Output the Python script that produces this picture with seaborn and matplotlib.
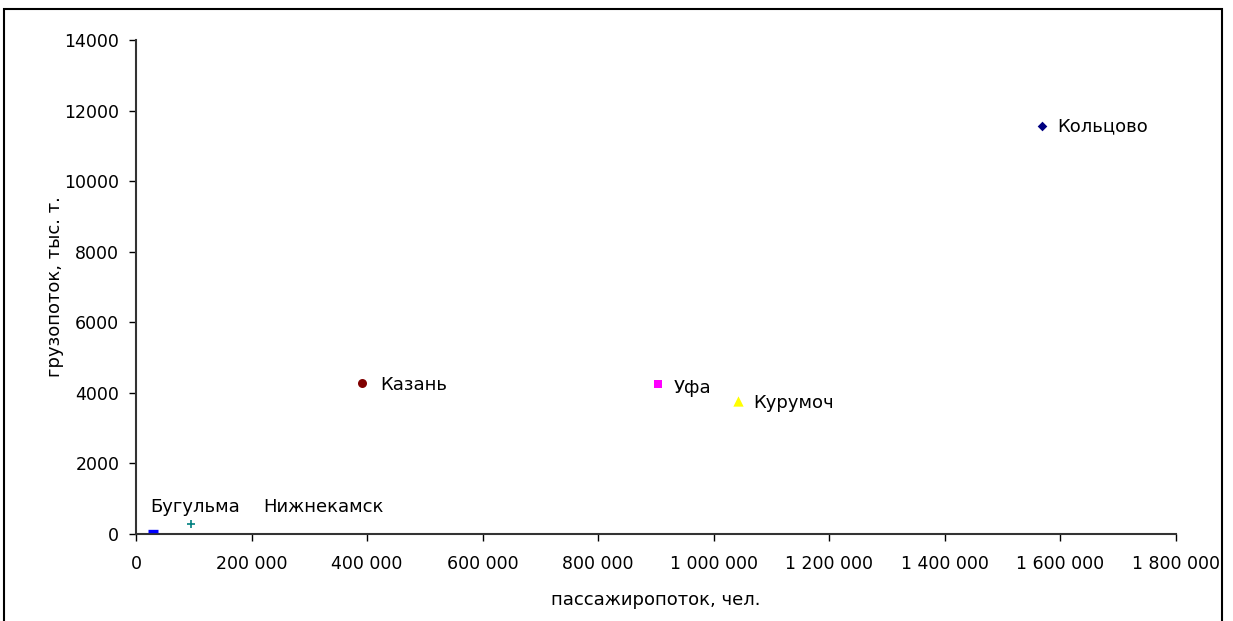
import matplotlib
matplotlib.use('Agg')
import matplotlib.pyplot as plt
import matplotlib.ticker as mticker
from matplotlib.patches import Rectangle
import seaborn as sns

sns.set_style('white')
plt.rcParams['font.family'] = ['DejaVu Sans']
plt.rcParams['text.color'] = 'black'
plt.rcParams['axes.labelcolor'] = 'black'
plt.rcParams['xtick.color'] = 'black'
plt.rcParams['ytick.color'] = 'black'

## data
airports = ['Кольцово', 'Казань', 'Уфа', 'Курумоч', 'Бугульма', 'Нижнекамск']
passengers = [1568000, 391000, 903000, 1042000, 29000, 95000]
cargo = [11560, 4280, 4250, 3770, 85, 280]

markers = ['D', 'o', 's', '^', '_', '+']
colors = ['#000080', '#800000', '#FF00FF', '#FFFF00', '#0000FF', '#008080']
sizes = [24, 42, 34, 55, 45, 28]

fig = plt.figure(figsize=(12.33, 6.21), dpi=100)
ax = fig.add_axes([0.1103, 0.140, 0.8435, 0.7955])

for i in range(len(airports)):
    if markers[i] == '_':
        lw = 2.4
    elif markers[i] == '+':
        lw = 1.2
    else:
        lw = 0
    sns.scatterplot(x=[passengers[i]], y=[cargo[i]], marker=markers[i],
                    color=colors[i], s=sizes[i], linewidth=lw,
                    ax=ax, legend=False, zorder=3)

## point labels, offsets in pixels
offsets = {'Кольцово': (15, 0), 'Казань': (18, -2), 'Уфа': (16, -4), 'Курумоч': (15, -2),
           'Бугульма': (-3, 24), 'Нижнекамск': (72, 17)}
for name, x, y in zip(airports, passengers, cargo):
    dx, dy = offsets[name]
    ax.annotate(name, (x, y), xytext=(dx, dy), textcoords='offset pixels',
                fontsize=13, va='center', ha='left', color='black')

ax.set_xlim(0, 1800000)
ax.set_ylim(0, 14000)
ax.xaxis.set_major_locator(mticker.MultipleLocator(200000))
ax.yaxis.set_major_locator(mticker.MultipleLocator(2000))
ax.xaxis.set_major_formatter(mticker.FuncFormatter(lambda v, p: f'{int(v):,}'.replace(',', ' ')))
ax.yaxis.set_major_formatter(mticker.FuncFormatter(lambda v, p: f'{int(v)}'))

ax.tick_params(axis='both', which='both', direction='out', length=5, width=1,
               labelsize=12.5, bottom=True, left=True, color='black', labelcolor='black')
ax.tick_params(axis='x', pad=10)
ax.tick_params(axis='y', pad=7)

sns.despine(ax=ax)
for sp in ['left', 'bottom']:
    ax.spines[sp].set_color('#333333')
    ax.spines[sp].set_linewidth(1.5)

ax.set_xlabel('пассажиропоток, чел.', fontsize=13)
ax.set_ylabel('грузопоток, тыс. т.', fontsize=13)
ax.xaxis.set_label_coords(0.5, -(600 - 534) / 494)
ax.xaxis.label.set_va('center')
ax.yaxis.set_label_coords((55 - 136) / 1040, 0.5)
ax.yaxis.label.set_va('center')

## outer frame
fig.patches.append(Rectangle((4 / 1233, -0.05), 1218 / 1233, 1.05 - 9 / 621,
                             transform=fig.transFigure, fill=False,
                             edgecolor='black', linewidth=1.5))

fig.savefig('out.png', dpi=100)
